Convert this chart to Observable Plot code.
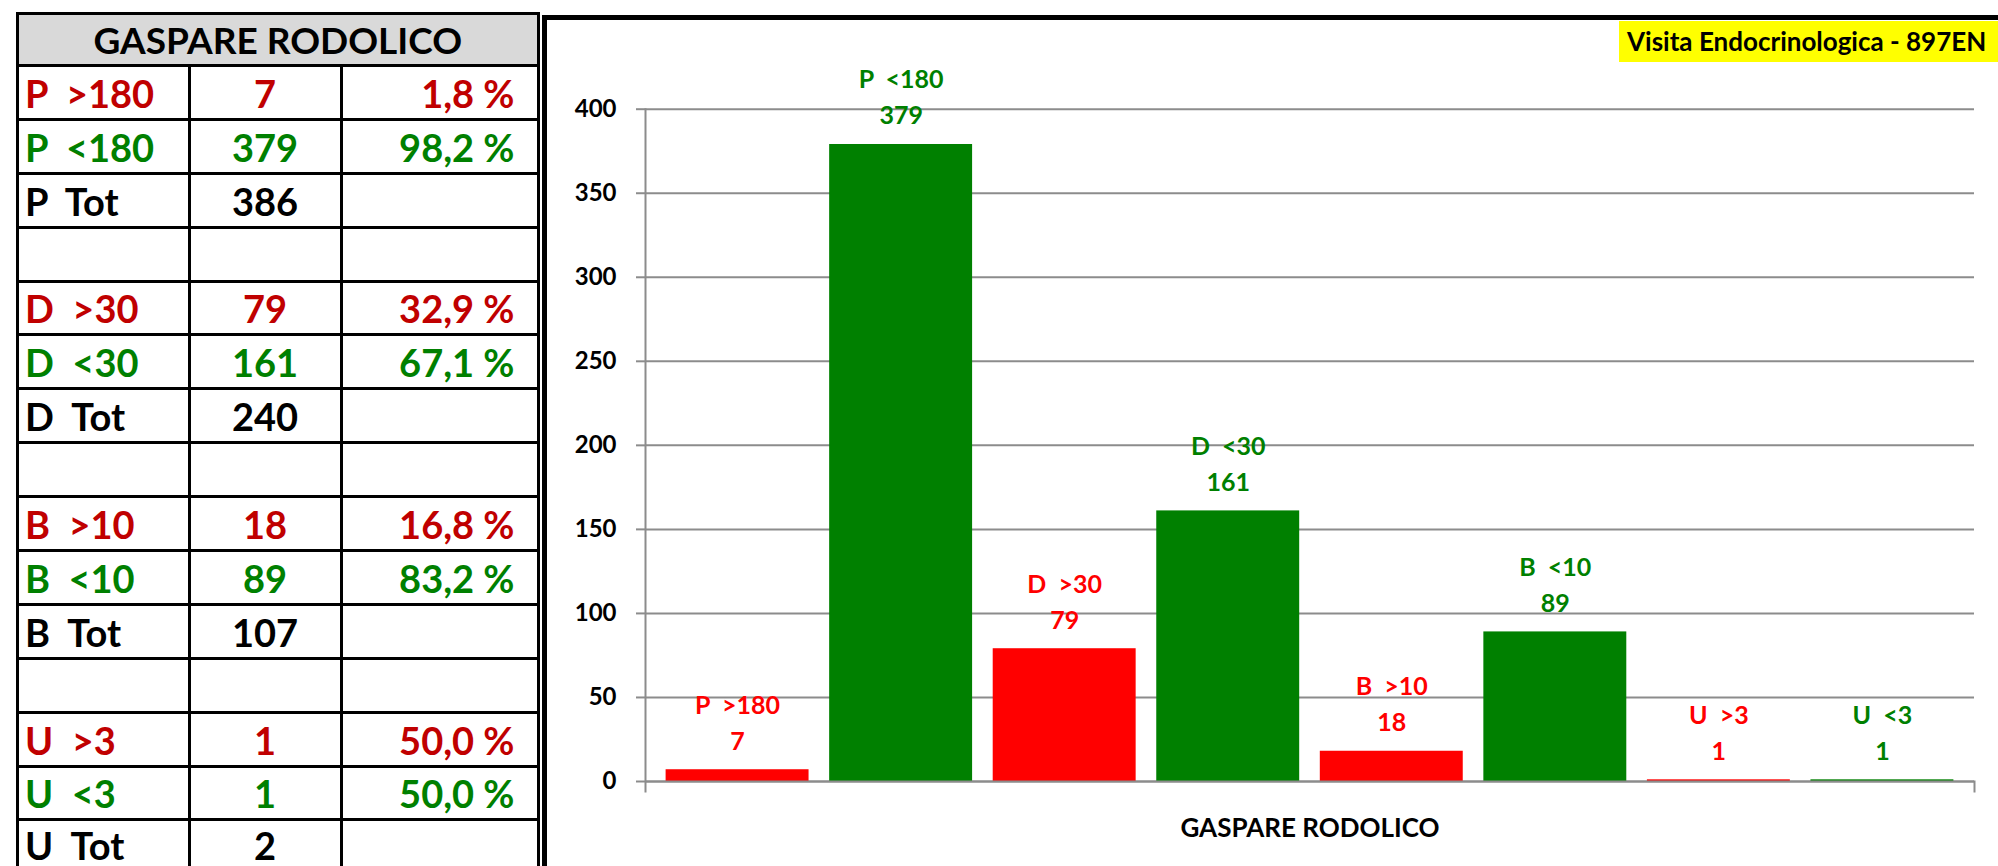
<!DOCTYPE html>
<html><head><meta charset="utf-8">
<script src="https://cdn.jsdelivr.net/npm/d3@7"></script>
<script src="https://cdn.jsdelivr.net/npm/@observablehq/plot@0.6"></script>
<style>
html,body{margin:0;padding:0;width:1998px;height:866px;overflow:hidden;background:#fff;font-family:Lato,"Open Sans",sans-serif;}
#tbl{position:absolute;left:16px;top:12px;display:grid;grid-template-columns:168.5px 149px 194px;grid-template-rows:49px repeat(15,50.9px);gap:3px;padding:3px;background:#000;}
.c{background:#fff;display:flex;align-items:flex-end;font-weight:700;font-size:38px;line-height:1;padding-bottom:6px;box-sizing:border-box;white-space:pre;}
.c.last{padding-bottom:8px;}
.h{grid-column:1 / span 3;background:#d9d9d9;justify-content:center;color:#000;font-size:37px;}
.c1{padding-left:6px;justify-content:flex-start;}
.c2{justify-content:center;}
.c3{justify-content:flex-end;padding-right:22px;}
.high{color:#c00000;} .low{color:#008000;} .tot{color:#000;}
#frame{position:absolute;left:542px;top:15px;width:2000px;height:1000px;border:5px solid #000;box-sizing:border-box;}
#chart{position:absolute;left:547px;top:20px;}
#chart svg text{white-space:pre;}
#badge{position:absolute;left:1619px;top:21px;width:379px;height:41px;background:#ffff00;font-weight:700;font-size:26px;line-height:41px;padding-left:8px;box-sizing:border-box;white-space:nowrap;overflow:hidden;color:#000;}
</style></head>
<body>
<div id="tbl"></div>
<div id="frame"></div>
<div id="chart"></div>
<div id="badge"></div>
<script>
const groupName = "GASPARE RODOLICO";
const badgeText = "Visita Endocrinologica - 897EN";
const categories = ["P  >180","P  <180","D  >30","D  <30","B  >10","B  <10","U  >3","U  <3"];
const values = [7,379,79,161,18,89,1,1];
const statuses = ["high","low","high","low","high","low","high","low"];
const yTicks = [0,50,100,150,200,250,300,350,400];

const tableLabels = ["P  >180","P  <180","P  Tot","","D  >30","D  <30","D  Tot","","B  >10","B  <10","B  Tot","","U  >3","U  <3","U  Tot"];
const tableCounts = ["7","379","386","","79","161","240","","18","89","107","","1","1","2"];
const tablePercents = ["1,8 %","98,2 %","","","32,9 %","67,1 %","","","16,8 %","83,2 %","","","50,0 %","50,0 %",""];
const tableKinds = ["high","low","tot","tot","high","low","tot","tot","high","low","tot","tot","high","low","tot"];

const barColors = {high:"#ff0000", low:"#008000"};
const gridColor = "#8c8c8c";

// table
const tbl = document.getElementById("tbl");
const hd = document.createElement("div"); hd.className = "c h"; hd.textContent = groupName; tbl.appendChild(hd);
tableLabels.forEach((lab,i)=>{
  [[lab,"c1"],[tableCounts[i],"c2"],[tablePercents[i],"c3"]].forEach(([t,cls])=>{
    const d = document.createElement("div");
    d.className = `c ${cls} ${tableKinds[i]}` + (i === tableLabels.length - 1 ? " last" : "");
    d.textContent = t;
    tbl.appendChild(d);
  });
});
document.getElementById("badge").textContent = badgeText;

const data = categories.map((name,i)=>({name, value: values[i], status: statuses[i]}));

const chart = Plot.plot({
  width: 1451, height: 846,
  marginLeft: 98, marginRight: 24, marginTop: 88.7, marginBottom: 85,
  style: {fontFamily: "Lato, 'Open Sans', sans-serif", background: "transparent", overflow: "visible"},
  x: {domain: categories, padding: 0.126, round: false, axis: null},
  y: {domain: [0, 400], axis: null},
  marks: [
    Plot.gridY(yTicks, {stroke: gridColor, strokeOpacity: 1, strokeWidth: 2}),
    Plot.axisY(yTicks, {tickSize: 9, tickPadding: 20, stroke: gridColor, strokeWidth: 2, fill: "#000", fontSize: 24, fontWeight: 700, label: null}),
    Plot.frame({anchor: "left", stroke: gridColor, strokeWidth: 2, insetBottom: -10}),
    Plot.frame({anchor: "right", stroke: gridColor, strokeWidth: 2, insetTop: 672.3, insetBottom: -10}),
    Plot.barY(data, {x: "name", y: "value", fill: d => barColors[d.status]}),
    Plot.ruleY([0], {stroke: gridColor, strokeWidth: 2}),
    Plot.text(data, {x: "name", y: "value", text: "name", dy: -64, lineAnchor: "middle", fill: d => barColors[d.status], fontSize: 25, fontWeight: 700}),
    Plot.text(data, {x: "name", y: "value", text: d => String(d.value), dy: -28, lineAnchor: "middle", fill: d => barColors[d.status], fontSize: 25, fontWeight: 700}),
    Plot.text([groupName], {frameAnchor: "bottom", text: d => d, dy: 47, lineAnchor: "middle", fill: "#000", fontSize: 26, fontWeight: 700})
  ]
});
document.getElementById("chart").appendChild(chart);
</script>
</body></html>
